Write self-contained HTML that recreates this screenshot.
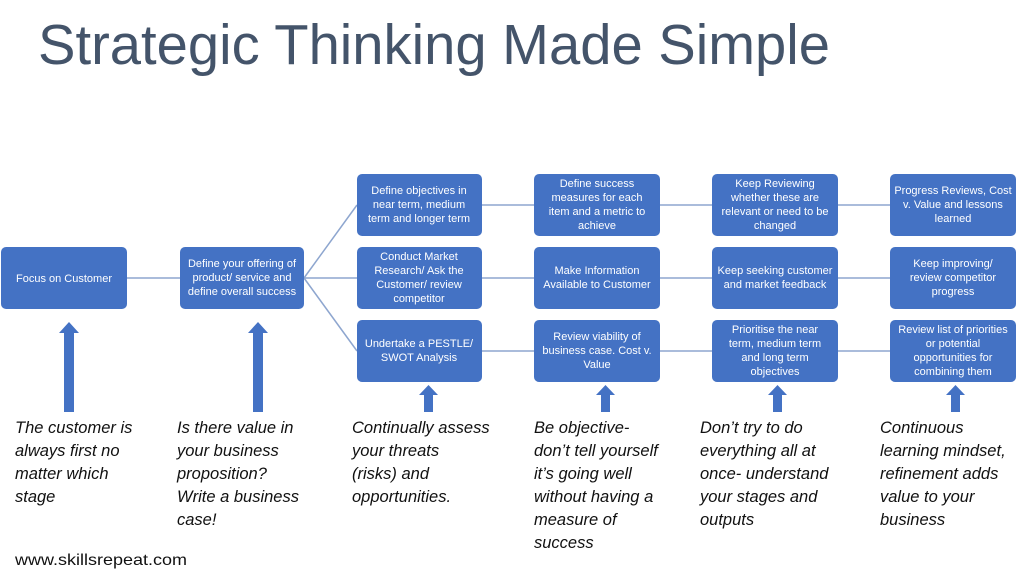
<!DOCTYPE html>
<html><head><meta charset="utf-8"><style>
body{margin:0;background:#fff}
svg{display:block}
.b{fill:#4472c4}
.t{fill:#fff;font-family:"Liberation Sans",sans-serif;font-size:11px;text-anchor:middle}
.i{fill:#111;font-family:"Liberation Sans",sans-serif;font-size:16.5px;font-style:italic}
.a{fill:#4472c4}
line{stroke:#8ea6cf;stroke-width:1.5}
</style></head><body>
<svg width="1024" height="576" viewBox="0 0 1024 576">
<text x="38" y="64" font-family="Liberation Sans,sans-serif" font-size="57" fill="#44546a" textLength="792" lengthAdjust="spacingAndGlyphs">Strategic Thinking Made Simple</text>
<line x1="127" y1="278" x2="180" y2="278"/>
<line x1="304" y1="278" x2="357" y2="205"/>
<line x1="304" y1="278" x2="357" y2="278"/>
<line x1="304" y1="278" x2="357" y2="351"/>
<line x1="482" y1="205" x2="890" y2="205"/>
<line x1="482" y1="278" x2="890" y2="278"/>
<line x1="482" y1="351" x2="890" y2="351"/>
<rect class="b" x="1" y="247" width="126" height="62" rx="5"/>
<rect class="b" x="180" y="247" width="124" height="62" rx="5"/>
<g>
<rect class="b" x="357" y="174" width="125" height="62" rx="5"/>
<rect class="b" x="357" y="247" width="125" height="62" rx="5"/>
<rect class="b" x="357" y="320" width="125" height="62" rx="5"/>
<rect class="b" x="534" y="174" width="126" height="62" rx="5"/>
<rect class="b" x="534" y="247" width="126" height="62" rx="5"/>
<rect class="b" x="534" y="320" width="126" height="62" rx="5"/>
<rect class="b" x="712" y="174" width="126" height="62" rx="5"/>
<rect class="b" x="712" y="247" width="126" height="62" rx="5"/>
<rect class="b" x="712" y="320" width="126" height="62" rx="5"/>
<rect class="b" x="890" y="174" width="126" height="62" rx="5"/>
<rect class="b" x="890" y="247" width="126" height="62" rx="5"/>
<rect class="b" x="890" y="320" width="126" height="62" rx="5"/>
</g>
<text class="t" x="64" y="282">Focus on Customer</text>
<text class="t" x="242" y="267">Define your offering of</text>
<text class="t" x="242" y="281">product/ service and</text>
<text class="t" x="242" y="295">define overall success</text>
<text class="t" x="419" y="194">Define objectives in</text>
<text class="t" x="419" y="208">near term, medium</text>
<text class="t" x="419" y="222">term and longer term</text>
<text class="t" x="419" y="260">Conduct Market</text>
<text class="t" x="419" y="274">Research/ Ask the</text>
<text class="t" x="419" y="288">Customer/ review</text>
<text class="t" x="419" y="302">competitor</text>
<text class="t" x="419" y="347">Undertake a PESTLE/</text>
<text class="t" x="419" y="361">SWOT Analysis</text>
<text class="t" x="597" y="187">Define success</text>
<text class="t" x="597" y="201">measures for each</text>
<text class="t" x="597" y="215">item and a metric to</text>
<text class="t" x="597" y="229">achieve</text>
<text class="t" x="597" y="274">Make Information</text>
<text class="t" x="597" y="288">Available to Customer</text>
<text class="t" x="597" y="340">Review viability of</text>
<text class="t" x="597" y="354">business case. Cost v.</text>
<text class="t" x="597" y="368">Value</text>
<text class="t" x="775" y="187">Keep Reviewing</text>
<text class="t" x="775" y="201">whether these are</text>
<text class="t" x="775" y="215">relevant or need to be</text>
<text class="t" x="775" y="229">changed</text>
<text class="t" x="775" y="274">Keep seeking customer</text>
<text class="t" x="775" y="288">and market feedback</text>
<text class="t" x="775" y="333">Prioritise the near</text>
<text class="t" x="775" y="347">term, medium term</text>
<text class="t" x="775" y="361">and long term</text>
<text class="t" x="775" y="375">objectives</text>
<text class="t" x="953" y="194">Progress Reviews, Cost</text>
<text class="t" x="953" y="208">v. Value and lessons</text>
<text class="t" x="953" y="222">learned</text>
<text class="t" x="953" y="267">Keep improving/</text>
<text class="t" x="953" y="281">review competitor</text>
<text class="t" x="953" y="295">progress</text>
<text class="t" x="953" y="333">Review list of priorities</text>
<text class="t" x="953" y="347">or potential</text>
<text class="t" x="953" y="361">opportunities for</text>
<text class="t" x="953" y="375">combining them</text>
<polygon class="a" points="64,412 74,412 74,333 79,333 69,322 59,333 64,333"/>
<polygon class="a" points="253,412 263,412 263,333 268,333 258,322 248,333 253,333"/>
<polygon class="a" points="424,412 433,412 433,395 438,395 428.5,385 419,395 424,395"/>
<polygon class="a" points="601,412 610,412 610,395 615,395 605.5,385 596,395 601,395"/>
<polygon class="a" points="773,412 782,412 782,395 787,395 777.5,385 768,395 773,395"/>
<polygon class="a" points="951,412 960,412 960,395 965,395 955.5,385 946,395 951,395"/>
<g class="i">
<text x="15" y="433">The customer is</text>
<text x="15" y="456">always first no</text>
<text x="15" y="479">matter which</text>
<text x="15" y="502">stage</text>
<text x="177" y="433">Is there value in</text>
<text x="177" y="456">your business</text>
<text x="177" y="479">proposition?</text>
<text x="177" y="502">Write a business</text>
<text x="177" y="525">case!</text>
<text x="352" y="433">Continually assess</text>
<text x="352" y="456">your threats</text>
<text x="352" y="479">(risks) and</text>
<text x="352" y="502">opportunities.</text>
<text x="534" y="433">Be objective-</text>
<text x="534" y="456">don’t tell yourself</text>
<text x="534" y="479">it’s going well</text>
<text x="534" y="502">without having a</text>
<text x="534" y="525">measure of</text>
<text x="534" y="548">success</text>
<text x="700" y="433">Don’t try to do</text>
<text x="700" y="456">everything all at</text>
<text x="700" y="479">once- understand</text>
<text x="700" y="502">your stages and</text>
<text x="700" y="525">outputs</text>
<text x="880" y="433">Continuous</text>
<text x="880" y="456">learning mindset,</text>
<text x="880" y="479">refinement adds</text>
<text x="880" y="502">value to your</text>
<text x="880" y="525">business</text>
</g>
<text x="15" y="565" font-family="Liberation Sans,sans-serif" font-size="16" fill="#111" textLength="172" lengthAdjust="spacingAndGlyphs">www.skillsrepeat.com</text>
</svg>
</body></html>
